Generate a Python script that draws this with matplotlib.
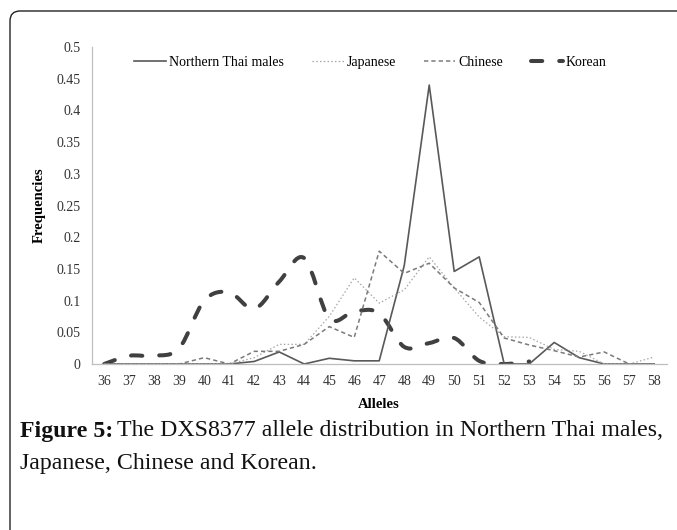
import matplotlib
matplotlib.use('Agg')
import matplotlib.pyplot as plt
from matplotlib.path import Path
from matplotlib.patches import PathPatch, FancyBboxPatch
from matplotlib.lines import Line2D
from matplotlib.transforms import IdentityTransform

''' Data read from the figure '''
alleles = list(range(36, 59))
thai = [0, 0, 0, 0, 0, 0, 0.004, 0.019, 0, 0.009, 0.005, 0.005,
        0.155, 0.44, 0.146, 0.169, 0, 0, 0.034, 0.01, 0, 0, 0]
japanese = [0, 0, 0, 0, 0, 0, 0.01, 0.031, 0.031, 0.075, 0.136, 0.096,
            0.117, 0.169, 0.12, 0.074, 0.043, 0.042, 0.023, 0.02, 0, 0, 0.011]
chinese = [0, 0, 0, 0, 0.01, 0, 0.02, 0.02, 0.031, 0.059, 0.042, 0.178,
           0.143, 0.159, 0.12, 0.097, 0.041, 0.03, 0.021, 0.011, 0.019, 0, 0]
# Korean series stops at allele 53
korean_alleles = list(range(36, 54))
korean = [0, 0.013, 0.013, 0.025, 0.1, 0.113, 0.087, 0.13, 0.167, 0.072,
          0.083, 0.08, 0.027, 0.033, 0.041, 0.005, 0, 0.004]
yticks = [0, 0.05, 0.1, 0.15, 0.2, 0.25, 0.3, 0.35, 0.4, 0.45, 0.5]
ytick_labels = ['0', '0.05', '0.1', '0.15', '0.2', '0.25', '0.3', '0.35', '0.4', '0.45', '0.5']

SERIF = ['Liberation Serif', 'DejaVu Serif']
plt.rcParams['font.family'] = SERIF

fig = plt.figure(figsize=(6.77, 5.30), dpi=100)
ax = fig.add_axes([0.1355, 0.3132, 0.8493, 0.5981])

thai_style = dict(color='#595959', lw=1.2, linestyle='-')
jap_style = dict(color='#a6a6a6', lw=0.9, linestyle=(0, (1.2, 1.8)))
chi_style = dict(color='#7a7a7a', lw=1.1, linestyle=(0, (2.8, 2.0)))
kor_style = dict(color='#404040', lw=2.9, linestyle=(0, (2.8, 4.2)),
                 dash_capstyle='round')

ax.plot(alleles, thai, **thai_style)
ax.plot(alleles, japanese, **jap_style)
ax.plot(alleles, chinese, **chi_style)

''' Korean line is drawn smoothed (Excel style bezier through the points) '''
def smooth_path(xs, ys):
    pts = list(zip(xs, ys))
    verts = [pts[0]]
    codes = [Path.MOVETO]
    n = len(pts)
    for i in range(n - 1):
        p0 = pts[i - 1] if i > 0 else pts[i]
        p1 = pts[i]
        p2 = pts[i + 1]
        p3 = pts[i + 2] if i + 2 < n else pts[i + 1]
        c1 = (p1[0] + (p2[0] - p0[0]) / 6.0, p1[1] + (p2[1] - p0[1]) / 6.0)
        c2 = (p2[0] - (p3[0] - p1[0]) / 6.0, p2[1] - (p3[1] - p1[1]) / 6.0)
        verts += [c1, c2, p2]
        codes += [Path.CURVE4] * 3
    return Path(verts, codes)

kor_patch = PathPatch(smooth_path(korean_alleles, korean), fill=False,
                      edgecolor=kor_style['color'], lw=kor_style['lw'],
                      linestyle=kor_style['linestyle'], capstyle='round')
ax.add_patch(kor_patch)

''' Axes settings '''
ax.set_xlim(35.5, 58.5)
ax.set_ylim(0, 0.5)
ax.set_xticks(alleles)
ax.set_xticklabels([str(a) for a in alleles])
ax.set_yticks(yticks)
ax.set_yticklabels(ytick_labels)
ax.tick_params(length=0, labelsize=10, colors='#333333')
ax.tick_params(axis='x', pad=8)
ax.tick_params(axis='y', pad=8)
for s in ['top', 'right']:
    ax.spines[s].set_visible(False)
for s in ['left', 'bottom']:
    ax.spines[s].set_color('#bfbfbf')
    ax.spines[s].set_linewidth(0.9)

ax.set_xlabel('Alleles', fontsize=10.5, fontweight='bold', labelpad=7)
ax.set_ylabel('Frequencies', fontsize=10.5, fontweight='bold', labelpad=8)

''' Legend '''
handles = [
    Line2D([], [], **thai_style),
    Line2D([], [], **jap_style),
    Line2D([], [], **chi_style),
    Line2D([], [], color=kor_style['color'], lw=kor_style['lw'],
           linestyle=(0, (2.8, 4.2)), dash_capstyle='round'),
]
labels = ['Northern Thai males', 'Japanese', 'Chinese', 'Korean']
fig.legend(handles, labels, loc='center', bbox_to_anchor=(0.547, 0.883),
           ncol=4, frameon=False, fontsize=10, handlelength=2.3,
           handletextpad=0.2, columnspacing=2.0)

''' Outer rounded frame (only top-left corner visible) '''
frame = FancyBboxPatch((10, -100), 800, 619, boxstyle='round,pad=0,rounding_size=10',
                       transform=IdentityTransform(), fill=False,
                       edgecolor='#222222', lw=1.0)
fig.patches.append(frame)

''' Caption '''
renderer = fig.canvas.get_renderer()
cap_size = 17.2
t1 = fig.text(20 / 677, 1 - 431 / 530, 'Figure 5:', fontsize=cap_size,
              fontweight='bold', va='center', ha='left', color='#111111')
bb = t1.get_window_extent(renderer)
fig.text((bb.x1 + 4) / 677, 1 - 431 / 530,
         'The DXS8377 allele distribution in Northern Thai males,',
         fontsize=cap_size, va='center', ha='left', color='#111111')
fig.text(20 / 677, 1 - 463 / 530, 'Japanese, Chinese and Korean.',
         fontsize=cap_size, va='center', ha='left', color='#111111')

fig.savefig('out.png', dpi=100)
